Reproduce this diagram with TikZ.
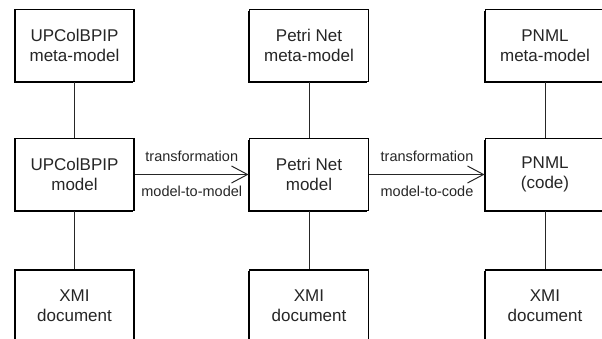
\documentclass[tikz,border=0pt]{standalone}
\usepackage{fontspec}
\setmainfont{Liberation Sans}
\usetikzlibrary{arrows.meta,shadows}
\definecolor{ink}{HTML}{262626}
\tikzset{
  x=1pt, y=1pt,
  box/.style={rectangle, draw=black, line width=1.9pt, fill=white,
    minimum width=119pt, minimum height=72pt, align=center,
    text=ink, font=\fontsize{17pt}{20pt}\selectfont,
    general shadow={fill=black, shadow xshift=-1.4pt, shadow yshift=-1.4pt}},
  link/.style={draw=ink, line width=1pt},
  flow/.style={link, -{Straight Barb[length=16pt, width=17pt, line width=1pt]}},
  lblabove/.style={anchor=base, yshift=13.4pt, text=ink,
    font=\fontsize{14.5pt}{17pt}\selectfont},
  lblbelow/.style={anchor=base, yshift=-22.4pt, text=ink,
    font=\fontsize{14.5pt}{17pt}\selectfont},
}
\begin{document}
\begin{tikzpicture}
\useasboundingbox (0,0) rectangle (602,-339);

% meta-models
\node[box] (mm1) at (74.5,-45.5) {UPColBPIP\\meta-model};
\node[box] (mm2) at (309,-45.5) {Petri Net\\meta-model};
\node[box] (mm3) at (545,-45.5) {PNML\\meta-model};

% models
\node[box] (m1) at (74.5,-174.5) {UPColBPIP\\model};
\node[box] (m2) at (309,-174.5) {Petri Net\\model};
\node[box] (m3) at (545,-174.5) {PNML\\(code)};

% serialised documents
\node[box] (x1) at (74.5,-306) {XMI\\document};
\node[box] (x2) at (309,-306) {XMI\\document};
\node[box] (x3) at (545,-306) {XMI\\document};

% vertical relations
\foreach \c in {1,2,3}{
  \draw[link] (mm\c) -- (m\c);
  \draw[link] (m\c) -- (x\c);
}

% transformations
\draw[flow] (m1) -- node[lblabove] (t1) {transformation}
                    node[lblbelow] (k1) {model-to-model} (m2);
\draw[flow] (m2) -- node[lblabove] (t2) {transformation}
                    node[lblbelow] (k2) {model-to-code} (m3);
\end{tikzpicture}
\end{document}
